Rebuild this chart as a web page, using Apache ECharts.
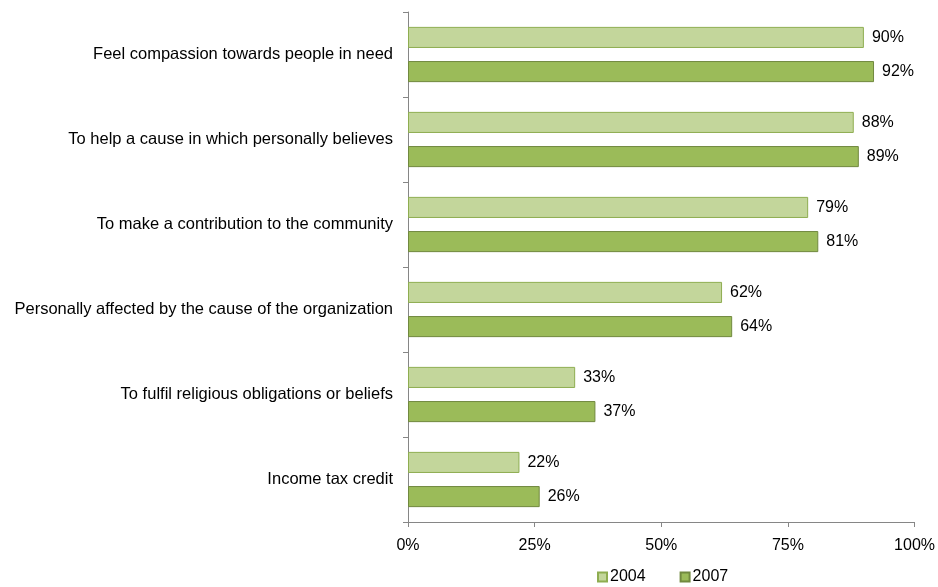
<!DOCTYPE html>
<html>
<head>
<meta charset="utf-8">
<script src="https://cdn.jsdelivr.net/npm/echarts@6/dist/echarts.min.js"></script>
<style>html,body{margin:0;padding:0;background:#fff}#c{width:938px;height:587px}</style>
</head>
<body>
<div id="c"></div>
<script>
const categories = [
  'Feel compassion towards people in need',
  'To help a cause in which personally believes',
  'To make a contribution to the community',
  'Personally affected by the cause of the organization',
  'To fulfil religious obligations or beliefs',
  'Income tax credit'
];
const seriesNames = ['2004', '2007'];
const values2004 = [90, 88, 79, 62, 33, 22];
const values2007 = [92, 89, 81, 64, 37, 26];
const xTicks = [0, 25, 50, 75, 100];

const chart = echarts.init(document.getElementById('c'), null, {renderer: 'canvas'});
const font = 'Liberation Sans, Arial, sans-serif';
const labelCfg = {show: true, position: 'right', distance: 8, color: '#000', fontSize: 16, fontFamily: font, formatter: p => p.value + '%'};
chart.setOption({
  animation: false,
  backgroundColor: '#fff',
  grid: {left: 408, right: 22, top: 12, bottom: 65, containLabel: false},
  legend: {
    data: seriesNames, top: 569, left: 597, padding: 0, itemWidth: 9, itemHeight: 9, itemGap: 34,
    textStyle: {fontSize: 16, fontFamily: font, color: '#000', padding: [0,0,0,-2]},
    icon: 'rect'
  },
  xAxis: {
    type: 'value', min: xTicks[0], max: xTicks[xTicks.length-1], interval: 25,
    axisLine: {show: true, lineStyle: {color: '#868686'}},
    axisTick: {show: true, length: 5, lineStyle: {color: '#868686'}},
    splitLine: {show: false},
    axisLabel: {formatter: v => v + '%', fontSize: 16, fontFamily: font, color: '#000', margin: 16}
  },
  yAxis: {
    type: 'category', data: categories, inverse: true,
    axisLine: {show: true, lineStyle: {color: '#868686'}},
    axisTick: {show: true, length: 5, lineStyle: {color: '#868686'}},
    axisLabel: {fontSize: 16.5, fontFamily: font, color: '#000', margin: 15}
  },
  series: [
    {name: seriesNames[0], type: 'bar', data: values2004, barCategoryGap: '35%', barGap: '62%',
     itemStyle: {color: '#C3D69B', borderColor: '#8EAD50', borderWidth: 1}, label: labelCfg},
    {name: seriesNames[1], type: 'bar', data: values2007, barCategoryGap: '35%', barGap: '62%',
     itemStyle: {color: '#9BBB59', borderColor: '#71893F', borderWidth: 1}, label: labelCfg}
  ]
});
</script>
</body>
</html>
